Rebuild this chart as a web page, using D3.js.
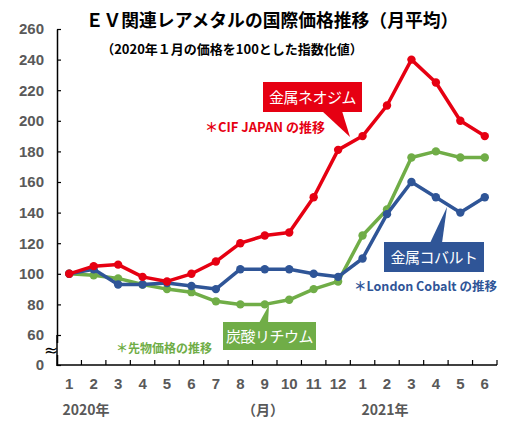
<!DOCTYPE html>
<html><head><meta charset="utf-8">
<script src="https://cdn.jsdelivr.net/npm/d3@7"></script>
<style>
body{margin:0;background:#fff;}
svg{display:block;}
</style></head>
<body>
<svg id="c" width="528" height="439"></svg>
<script>
const months = ["1","2","3","4","5","6","7","8","9","10","11","12","1","2","3","4","5","6"];
const neodymium = [100,105,106,98,95,100,108,120,125,127,150,181,190,210,240,225,200,190];
const cobalt    = [100,103,93,93,94,92,90,103,103,103,100,98,110,139,160,150,140,150];
const lithium   = [100,99,97,93,90,88,82,80,80,83,90,95,125,142,176,180,176,176];
const yTicks = [0,60,80,100,120,140,160,180,200,220,240,260];
const title = "ＥＶ関連レアメタルの国際価格推移（月平均）";
const subtitle = "（2020年１月の価格を100とした指数化値）";

const svg = d3.select("#c");
const JP = "'Noto Sans CJK JP','Noto Sans',sans-serif";
const NUM = "'Liberation Sans',Arial,sans-serif";

const x = d3.scaleBand().domain(d3.range(months.length)).range([57,497]);
const y = d3.scaleLinear().domain([0,60,260]).range([365,335,29]);

// title
svg.append("text").attr("x",272).attr("y",27).attr("text-anchor","middle")
  .attr("font-family",JP).attr("font-weight","bold").attr("font-size",17.8).attr("fill","#000").text(title);
svg.append("text").attr("x",232).attr("y",54).attr("text-anchor","middle")
  .attr("font-family",JP).attr("font-weight","bold").attr("font-size",13).attr("fill","#000").text(subtitle);

// y axis
const yAxis = d3.axisLeft(y).tickValues(yTicks).tickSize(-4).tickPadding(13).tickSizeOuter(0);
const gy = svg.append("g").attr("transform","translate(57,0)").call(yAxis);
gy.select(".domain").attr("stroke","#000").attr("stroke-width",1.5);
gy.selectAll(".tick line").attr("stroke","#000").attr("stroke-width",1.2);
gy.selectAll(".tick text").attr("font-family",NUM).attr("font-weight","bold").attr("font-size",15).attr("fill","#595959");
// break symbol
svg.append("rect").attr("x",50).attr("y",343).attr("width",14).attr("height",12).attr("fill","#fff");
svg.append("line").attr("x1",57).attr("x2",57).attr("y1",335).attr("y2",366).attr("stroke","#000").attr("stroke-width",1.5);
svg.append("text").attr("x",51).attr("y",356).attr("text-anchor","middle")
  .attr("font-family","'DejaVu Sans',sans-serif").attr("font-size",17).attr("fill","#000").text("≈");

// x axis
const xAxis = d3.axisBottom(x).tickSize(0).tickPadding(13).tickFormat(i=>months[i]);
const gx = svg.append("g").attr("transform","translate(0,365)").call(xAxis);
gx.select(".domain").remove();
svg.append("line").attr("x1",57).attr("x2",497).attr("y1",365).attr("y2",365).attr("stroke","#000").attr("stroke-width",1.5);
gx.selectAll(".tick text").attr("font-family",NUM).attr("font-weight","bold").attr("font-size",15).attr("fill","#595959");
const bounds = d3.range(1, months.length+1).map(i => 57 + i*x.step());
svg.append("g").selectAll("line").data(bounds).join("line")
  .attr("x1",d=>d).attr("x2",d=>d).attr("y1",365).attr("y2",360).attr("stroke","#000").attr("stroke-width",1.2);

svg.append("text").attr("x",86).attr("y",415).attr("text-anchor","middle")
  .attr("font-family",JP).attr("font-weight","bold").attr("font-size",14).attr("fill","#595959").text("2020年");
svg.append("text").attr("x",263).attr("y",415).attr("text-anchor","middle")
  .attr("font-family",JP).attr("font-weight","bold").attr("font-size",14).attr("fill","#595959").text("（月）");
svg.append("text").attr("x",385).attr("y",415).attr("text-anchor","middle")
  .attr("font-family",JP).attr("font-weight","bold").attr("font-size",14).attr("fill","#595959").text("2021年");

// series
const series = [
  {vals: lithium, color:"#70ad47"},
  {vals: cobalt, color:"#2f5597"},
  {vals: neodymium, color:"#e60012"}
];
const line = d3.line().x((d,i)=>x(i)+x.bandwidth()/2).y(d=>y(d));
series.forEach(s=>{
  const g = svg.append("g");
  g.append("path").datum(s.vals).attr("d",line).attr("fill","none")
    .attr("stroke",s.color).attr("stroke-width",3.5).attr("stroke-linejoin","round");
  g.selectAll("circle").data(s.vals).join("circle")
    .attr("cx",(d,i)=>x(i)+x.bandwidth()/2).attr("cy",d=>y(d)).attr("r",4.2).attr("fill",s.color);
});

// callouts
function callout(x0,y0,x1,y1,tail,color,label){
  const g = svg.append("g");
  g.append("rect").attr("x",x0).attr("y",y0).attr("width",x1-x0).attr("height",y1-y0).attr("fill",color);
  g.append("path").attr("d","M"+tail.map(p=>p.join(",")).join("L")+"Z").attr("fill",color);
  g.append("text").attr("x",(x0+x1)/2).attr("y",(y0+y1)/2+5.5).attr("text-anchor","middle")
    .attr("font-family",JP).attr("font-size",15).attr("letter-spacing",-0.5).attr("fill","#fff").text(label);
}
callout(263,82,362,112,[[322,111],[342,111],[350,137]],"#e60012","金属ネオジム");
callout(384,242,484,272,[[430,243],[442,243],[447,207]],"#2f5597","金属コバルト");
callout(223,322,316,350,[[259,323],[268,323],[269,305]],"#70ad47","炭酸リチウム");

svg.append("text").attr("x",205).attr("y",132).attr("font-family",JP).attr("font-weight","bold")
  .attr("font-size",13).attr("fill","#e60012").text("＊CIF JAPAN の推移");
svg.append("text").attr("x",354).attr("y",291).attr("font-family",JP).attr("font-weight","bold")
  .attr("font-size",12.5).attr("fill","#2f5597").text("＊London Cobalt の推移");
svg.append("text").attr("x",116).attr("y",353).attr("font-family",JP).attr("font-weight","bold")
  .attr("font-size",12).attr("fill","#70ad47").text("＊先物価格の推移");
</script>
</body></html>
